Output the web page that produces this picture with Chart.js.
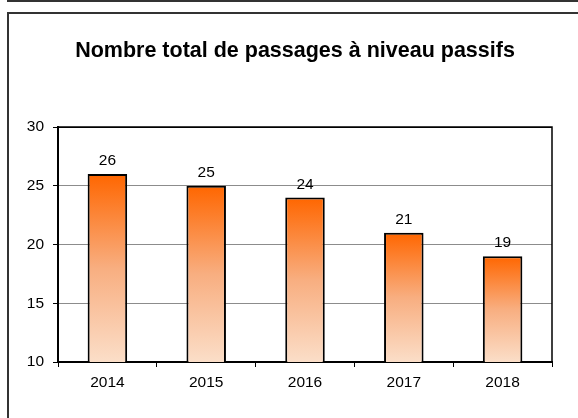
<!DOCTYPE html>
<html>
<head>
<meta charset="utf-8">
<script src="https://cdn.jsdelivr.net/npm/chart.js@4/dist/chart.umd.min.js"></script>
<style>
  html, body { margin: 0; padding: 0; background: #fff; width: 578px; height: 418px; overflow: hidden; }
  .frame { position: absolute; box-sizing: border-box; border-left: 2px solid #333; border-top: none; border-right: none; border-bottom: none; }
  #prev { left: 7px; top: -30px; width: 571px; height: 32px; border-bottom: 2px solid #333; }
  #main { left: 7px; top: 12px; width: 571px; height: 406px; border-top: 2px solid #333; }
  #c { position: absolute; left: 0; top: 0; }
</style>
</head>
<body>
<div class="frame" id="prev"></div>
<div class="frame" id="main"></div>
<canvas id="c" width="578" height="418"></canvas>
<script>
const titleText = 'Nombre total de passages à niveau passifs';
const categories = ['2014', '2015', '2016', '2017', '2018'];
const values = [26, 25, 24, 21, 19];
const yMin = 10;
const yMax = 30;
const yStep = 5;

const FONT = "'Liberation Sans', Arial, sans-serif";

function barGradient(context) {
  const chart = context.chart;
  const area = chart.chartArea;
  if (!area || !chart.scales.y) return '#FF6600';
  const top = chart.scales.y.getPixelForValue(context.raw);
  const bottom = area.bottom;
  if (!isFinite(top) || bottom - top < 1) return '#FF6600';
  const g = chart.ctx.createLinearGradient(0, top, 0, bottom);
  g.addColorStop(0, '#FF6600');
  g.addColorStop(0.5, '#F8AE80');
  g.addColorStop(1, '#FBDEC8');
  return g;
}

const framePlugin = {
  id: 'frameBox',
  beforeDatasetsDraw(chart) {
    const { ctx, chartArea: a } = chart;
    ctx.save();
    ctx.strokeStyle = '#000';
    ctx.lineWidth = 1.5;
    ctx.beginPath();
    ctx.moveTo(a.left, a.top);
    ctx.lineTo(a.right, a.top);
    ctx.lineTo(a.right, a.bottom);
    ctx.stroke();
    ctx.restore();
  }
};

const titlePlugin = {
  id: 'titleText',
  afterDraw(chart) {
    const ctx = chart.ctx;
    ctx.save();
    ctx.fillStyle = '#000';
    ctx.font = 'bold 21.5px ' + FONT;
    ctx.textAlign = 'center';
    ctx.textBaseline = 'alphabetic';
    ctx.fillText(titleText, 295, 57);
    ctx.restore();
  }
};

const labelPlugin = {
  id: 'valueLabels',
  afterDatasetsDraw(chart) {
    const ctx = chart.ctx;
    const meta = chart.getDatasetMeta(0);
    ctx.save();
    ctx.fillStyle = '#000';
    ctx.font = '15.5px ' + FONT;
    ctx.textAlign = 'center';
    ctx.textBaseline = 'alphabetic';
    meta.data.forEach((bar, i) => {
      ctx.fillText(String(values[i]), bar.x, bar.y - 9);
    });
    ctx.restore();
  }
};

new Chart(document.getElementById('c'), {
  type: 'bar',
  data: {
    labels: categories,
    datasets: [{
      data: values,
      backgroundColor: barGradient,
      borderColor: '#000',
      borderWidth: 2,
      barPercentage: 0.4,
      categoryPercentage: 1.0
    }]
  },
  options: {
    responsive: false,
    animation: false,
    layout: { padding: { left: 0, right: 26, top: 127, bottom: 0 } },
    plugins: {
      legend: { display: false },
      title: { display: false },
      tooltip: { enabled: false }
    },
    scales: {
      x: {
        offset: true,
        grid: {
          offset: true,
          drawOnChartArea: false,
          drawTicks: true,
          tickLength: 5,
          color: '#000',
          tickColor: '#000'
        },
        border: { display: true, color: '#000', width: 2 },
        ticks: { color: '#000', font: { family: FONT, size: 15.5 }, padding: 6, maxRotation: 0 },
        afterFit(scale) { scale.height = 56; }
      },
      y: {
        min: yMin,
        max: yMax,
        grid: {
          color: (c) => (c.tick && (c.tick.value === yMax || c.tick.value === yMin)) ? '#000' : '#8c8c8c',
          tickColor: '#000',
          tickLength: 5,
          lineWidth: 1
        },
        border: { display: true, color: '#000', width: 2 },
        ticks: { stepSize: yStep, color: '#000', font: { family: FONT, size: 15.5 }, padding: 9 },
        afterFit(scale) { scale.width = 58; }
      }
    }
  },
  plugins: [framePlugin, titlePlugin, labelPlugin]
});
</script>
</body>
</html>
